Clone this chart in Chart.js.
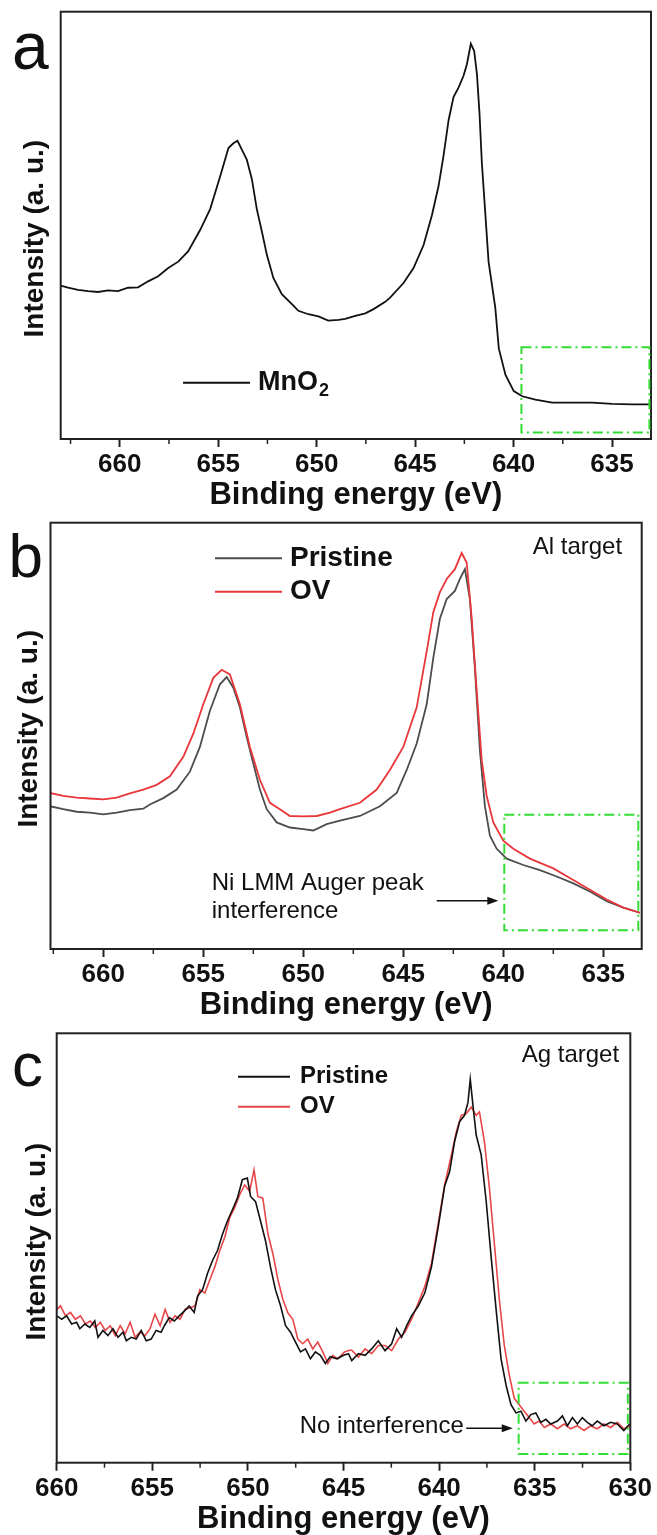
<!DOCTYPE html>
<html>
<head>
<meta charset="utf-8">
<script src="https://cdn.jsdelivr.net/npm/chart.js@4.4.0/dist/chart.umd.min.js"></script>
<style>
  html, body { margin: 0; padding: 0; background: #fff; }
  #wrap { position: relative; width: 657px; height: 1535px; }
  canvas { position: absolute; left: 0; }
</style>
</head>
<body>
<div id="wrap">
  <canvas id="chartA" width="657" height="512" style="top:0"></canvas>
  <canvas id="chartB" width="657" height="510" style="top:512px"></canvas>
  <canvas id="chartC" width="657" height="513" style="top:1022px"></canvas>
</div>
<script>
// ── Panel a: MnO2 (Al target) ────────────────────────────────
const aEnergy = [663.0, 662.63, 662.12, 661.61, 661.1, 660.6, 660.09, 659.58, 659.07, 658.56,
  658.05, 657.54, 657.03, 656.53, 655.92, 655.41, 654.9, 654.48, 654.23, 654.02,
  653.8, 653.55, 653.29, 653.04, 652.78, 652.53, 652.2, 651.77, 651.18, 650.93,
  650.42, 649.91, 649.41, 648.9, 648.55, 648.04, 647.53, 647.11, 646.52, 646.27,
  645.59, 645.08, 644.57, 644.15, 643.81, 643.56, 643.3, 643.05, 642.79, 642.54,
  642.37, 642.17, 642.0, 641.86, 641.73, 641.61, 641.44, 641.27, 640.93, 640.75,
  640.41, 639.99, 639.56, 638.89, 638.04, 637.02, 636.01, 634.99, 633.97, 632.99];
const aMnO2 = [35.9, 35.4, 34.9, 34.6, 34.4, 34.8, 34.6, 35.4, 35.5, 36.9,
  38.1, 40.0, 41.5, 43.9, 48.9, 53.8, 61.5, 68.1, 69.2, 69.8,
  67.7, 65.4, 60.8, 53.8, 48.5, 43.1, 37.7, 33.9, 31.2, 30.0,
  29.2, 28.7, 27.7, 27.9, 28.1, 28.8, 29.4, 30.4, 32.1, 33.1,
  36.5, 40.0, 45.4, 52.3, 59.2, 66.2, 74.6, 80.0, 82.3, 85.0,
  87.7, 92.5, 90.8, 85.4, 76.2, 64.6, 53.1, 41.5, 30.8, 21.2,
  15.0, 11.2, 10.0, 9.2, 8.5, 8.5, 8.5, 8.2, 8.1, 8.1];

// ── Panel b: Pristine vs OV (Al target) ──────────────────────
const bPristineEnergy = [662.67, 662.0, 661.33, 660.67, 660.0, 659.33, 658.67, 658.0, 657.67, 657.0,
  656.33, 655.67, 655.17, 654.67, 654.17, 653.83, 653.5, 653.17, 652.83, 652.5,
  652.17, 651.83, 651.33, 650.67, 650.0, 649.5, 648.83, 648.17, 647.17, 646.17,
  645.33, 644.83, 644.33, 643.83, 643.5, 643.17, 642.83, 642.42, 642.17, 641.92,
  641.67, 641.42, 641.17, 640.92, 640.67, 640.33, 639.83, 639.0, 638.17, 637.33,
  636.5, 635.67, 634.83, 634.0, 633.17];
const bPristine = [33.5, 32.8, 32.2, 32.0, 31.6, 32.0, 32.6, 32.9, 33.9, 35.4,
  37.4, 41.6, 47.4, 55.9, 62.1, 63.8, 61.3, 56.7, 49.7, 43.5,
  37.4, 32.8, 29.7, 28.5, 28.1, 27.8, 29.3, 30.1, 31.2, 33.5,
  36.6, 42.0, 48.2, 57.4, 68.3, 77.5, 82.1, 84.0, 86.8, 89.1,
  82.1, 65.9, 46.6, 33.5, 26.6, 23.5, 21.2, 19.7, 18.5, 17.0,
  15.4, 13.5, 11.2, 9.7, 8.5];
const bOvEnergy = [662.67, 662.0, 661.33, 660.67, 660.0, 659.33, 658.67, 658.0, 657.33, 656.67,
  656.0, 655.5, 655.0, 654.5, 654.08, 653.67, 653.17, 652.67, 652.17, 651.67,
  651.17, 650.67, 650.0, 649.33, 648.67, 648.17, 647.17, 646.33, 645.67, 645.0,
  644.33, 643.83, 643.5, 643.17, 642.83, 642.42, 642.08, 641.83, 641.58, 641.33,
  641.08, 640.83, 640.5, 640.0, 639.5, 638.67, 637.5, 636.5, 635.67, 634.83,
  634.0, 633.17];
const bOv = [36.6, 35.9, 35.5, 35.3, 35.1, 35.5, 36.5, 37.4, 38.5, 40.5,
  45.1, 50.5, 57.4, 63.6, 65.5, 64.4, 57.4, 47.4, 39.7, 34.3,
  32.8, 31.2, 31.1, 31.2, 32.0, 32.8, 34.3, 37.4, 42.0, 47.4,
  56.7, 69.8, 79.0, 83.7, 86.8, 89.1, 92.9, 90.6, 77.5, 60.6,
  44.3, 35.9, 29.7, 25.4, 23.5, 21.2, 18.9, 16.2, 13.9, 11.6,
  9.7, 8.5];

// ── Panel c: Pristine vs OV (Ag target) ──────────────────────
const cPristineEnergy = [659.98, 659.74, 659.48, 659.22, 658.96, 658.79, 658.53, 658.27, 658.01, 657.84,
  657.58, 657.32, 657.06, 656.79, 656.53, 656.36, 656.1, 655.84, 655.58, 655.32,
  655.06, 654.8, 654.54, 654.37, 654.11, 653.85, 653.59, 653.33, 653.07, 652.81,
  652.63, 652.37, 652.11, 651.85, 651.59, 651.33, 651.07, 650.81, 650.55, 650.29,
  650.03, 649.86, 649.6, 649.34, 649.08, 648.82, 648.56, 648.29, 648.03, 647.77,
  647.51, 647.25, 646.99, 646.73, 646.47, 646.21, 645.95, 645.69, 645.34, 645.0,
  644.74, 644.57, 644.22, 643.87, 643.53, 643.18, 642.83, 642.48, 642.22, 641.96,
  641.7, 641.44, 641.09, 640.75, 640.4, 640.05, 639.71, 639.45, 639.19, 638.93,
  638.67, 638.49, 638.37, 638.23, 638.06, 637.8, 637.54, 637.28, 637.02, 636.76,
  636.5, 636.24, 635.98, 635.72, 635.46, 635.2, 634.94, 634.68, 634.42, 634.16,
  633.81, 633.55, 633.29, 633.03, 632.77, 632.51, 632.25, 631.99, 631.73, 631.38,
  631.03, 630.68, 630.34, 630.03];
const cPristine = [34.2, 33.4, 34.2, 32.3, 32.7, 31.2, 32.3, 31.5, 33.0, 29.2,
  30.8, 29.6, 31.2, 29.2, 30.4, 28.4, 29.2, 28.8, 30.8, 28.4,
  28.8, 30.8, 30.4, 31.9, 33.8, 33.0, 34.2, 35.3, 36.5, 35.0,
  38.8, 40.3, 44.1, 47.1, 49.4, 53.2, 56.3, 58.9, 61.6, 65.9,
  66.3, 62.0, 60.8, 56.3, 51.7, 45.6, 40.3, 36.5, 31.9, 30.4,
  28.1, 25.8, 26.5, 24.2, 25.8, 25.0, 23.1, 24.7, 24.2, 25.0,
  25.4, 23.8, 25.4, 25.0, 26.5, 28.4, 26.1, 27.7, 31.2, 29.2,
  31.9, 34.2, 36.5, 39.5, 45.6, 54.8, 64.4, 67.8, 74.8, 79.4,
  80.9, 83.9, 89.3, 83.2, 76.3, 71.7, 61.0, 48.0, 35.7, 24.2,
  18.1, 13.5, 11.6, 12.0, 9.7, 11.2, 11.6, 9.4, 10.1, 9.0,
  9.7, 10.9, 8.6, 10.5, 9.0, 10.5, 9.4, 8.6, 9.7, 8.6,
  9.4, 9.0, 7.5, 9.0];
const cOvEnergy = [659.98, 659.8, 659.54, 659.28, 659.02, 658.76, 658.5, 658.24, 657.98, 657.72,
  657.46, 657.2, 656.94, 656.68, 656.42, 656.16, 655.9, 655.64, 655.38, 655.12,
  654.86, 654.59, 654.33, 654.07, 653.81, 653.55, 653.29, 653.03, 652.77, 652.51,
  652.25, 651.99, 651.73, 651.47, 651.21, 650.95, 650.69, 650.43, 650.17, 649.91,
  649.68, 649.48, 649.22, 648.95, 648.69, 648.43, 648.17, 647.91, 647.65, 647.39,
  647.13, 646.87, 646.61, 646.35, 646.08, 645.82, 645.56, 645.3, 644.95, 644.69,
  644.57, 644.22, 643.87, 643.53, 643.18, 642.83, 642.48, 642.13, 641.79, 641.44,
  641.09, 640.75, 640.4, 640.05, 639.71, 639.36, 639.1, 638.84, 638.58, 638.32,
  638.06, 637.89, 637.63, 637.37, 637.11, 636.85, 636.59, 636.33, 636.07, 635.81,
  635.55, 635.29, 635.03, 634.77, 634.5, 634.16, 633.81, 633.46, 633.12, 632.77,
  632.42, 632.08, 631.73, 631.38, 631.03, 630.68, 630.34, 630.03];
const cOv = [35.7, 36.5, 34.2, 35.0, 33.4, 34.2, 32.3, 33.0, 31.5, 32.7,
  30.8, 31.9, 29.6, 31.9, 30.0, 32.7, 29.2, 30.4, 29.6, 31.2,
  34.6, 31.9, 35.7, 32.7, 34.2, 33.4, 35.7, 36.1, 36.5, 40.3,
  39.5, 42.6, 45.6, 49.4, 52.5, 57.1, 59.4, 62.4, 64.7, 63.2,
  68.2, 62.0, 61.6, 53.2, 48.6, 42.6, 38.0, 34.9, 33.4, 28.8,
  27.7, 28.8, 26.5, 28.1, 25.8, 23.1, 25.0, 24.2, 25.8, 26.2,
  26.2, 24.6, 26.5, 25.4, 27.3, 27.3, 26.1, 28.8, 30.4, 33.4,
  37.2, 41.0, 46.4, 55.6, 64.7, 71.6, 77.0, 80.9, 81.3, 82.8,
  80.9, 81.7, 74.8, 64.0, 51.0, 38.0, 27.3, 20.4, 15.0, 13.5,
  12.0, 10.5, 9.0, 9.7, 8.2, 9.0, 7.9, 9.0, 7.9, 8.6,
  7.5, 8.6, 7.9, 9.0, 8.2, 9.4, 7.9, 8.6];

const FONT = '"Liberation Sans", Arial, sans-serif';
const INK = '#111';
const pts = (xs, ys) => xs.map((x, i) => ({ x, y: ys[i] }));
const isMajor = v => Math.abs(v % 5) < 1e-6;

// frame, minor ticks, legend, labels and the green dash-dot region
const decor = {
  id: 'decor',
  afterDraw(chart, args, o) {
    const { ctx, chartArea: a, scales: { x, y } } = chart;
    ctx.save();

    // plot frame
    ctx.strokeStyle = '#222';
    ctx.lineWidth = 2;
    ctx.strokeRect(a.left, a.top, a.right - a.left, a.bottom - a.top);

    // minor ticks (shorter than the major ones)
    ctx.lineWidth = 1.5;
    x.ticks.forEach(t => {
      if (isMajor(t.value)) return;
      const px = x.getPixelForValue(t.value);
      ctx.beginPath();
      ctx.moveTo(px, a.bottom);
      ctx.lineTo(px, a.bottom + 5);
      ctx.stroke();
    });

    // green dash-dot region
    const [e1, e2, i1, i2] = o.region;
    const rx1 = x.getPixelForValue(e1), rx2 = x.getPixelForValue(e2);
    const ry1 = y.getPixelForValue(i1), ry2 = y.getPixelForValue(i2);
    ctx.strokeStyle = '#33dd33';
    ctx.lineWidth = 2;
    ctx.setLineDash([10, 4, 2, 4]);
    ctx.strokeRect(rx1, ry1, rx2 - rx1, ry2 - ry1);
    ctx.setLineDash([]);

    // arrow
    if (o.arrow) {
      const [s, e, v] = o.arrow;
      const ax1 = x.getPixelForValue(s), ax2 = x.getPixelForValue(e), ay = y.getPixelForValue(v);
      ctx.strokeStyle = INK;
      ctx.fillStyle = INK;
      ctx.lineWidth = 1.5;
      ctx.beginPath();
      ctx.moveTo(ax1, ay);
      ctx.lineTo(ax2 - 8, ay);
      ctx.stroke();
      ctx.beginPath();
      ctx.moveTo(ax2, ay);
      ctx.lineTo(ax2 - 11, ay - 4);
      ctx.lineTo(ax2 - 11, ay + 4);
      ctx.closePath();
      ctx.fill();
    }

    // note text
    ctx.fillStyle = INK;
    ctx.textAlign = 'left';
    ctx.textBaseline = 'middle';
    ctx.font = `24px ${FONT}`;
    (o.notes || []).forEach(n => {
      ctx.fillText(n.text, x.getPixelForValue(n.e), y.getPixelForValue(n.v));
    });

    // target label, top right
    if (o.target) ctx.fillText(o.target.text, o.target.x, o.target.y);

    // legend
    const lg = o.legend;
    chart.data.datasets.slice().sort((p, q) => p.legendOrder - q.legendOrder).forEach((ds, i) => {
      const ly = lg.rows[i];
      ctx.strokeStyle = ds.borderColor;
      ctx.lineWidth = 2;
      ctx.beginPath();
      ctx.moveTo(lg.x1, ly);
      ctx.lineTo(lg.x2, ly);
      ctx.stroke();
      ctx.fillStyle = INK;
      ctx.font = `bold ${lg.size}px ${FONT}`;
      ctx.fillText(ds.label, lg.tx, ly);
      if (ds.sub) {
        const w = ctx.measureText(ds.label).width;
        ctx.font = `bold ${Math.round(lg.size * 0.68)}px ${FONT}`;
        ctx.fillText(ds.sub, lg.tx + w + 1, ly + lg.size * 0.3);
      }
    });

    // y title
    ctx.save();
    ctx.translate(o.yTitle.x, o.yTitle.y);
    ctx.rotate(-Math.PI / 2);
    ctx.textAlign = 'center';
    ctx.fillStyle = INK;
    ctx.font = `bold 28px ${FONT}`;
    ctx.fillText('Intensity (a. u.)', 0, 0);
    ctx.restore();

    // panel letter
    ctx.textBaseline = 'alphabetic';
    ctx.textAlign = 'left';
    ctx.fillStyle = INK;
    ctx.font = `${o.letter.size}px ${FONT}`;
    ctx.fillText(o.letter.text, o.letter.x, o.letter.y);

    ctx.restore();
  }
};

function makePanel(id, datasets, p) {
  return new Chart(document.getElementById(id), {
    type: 'line',
    data: { datasets },
    options: {
      responsive: false,
      animation: false,
      layout: { padding: p.padding },
      elements: { point: { radius: 0 }, line: { tension: 0 } },
      plugins: { legend: { display: false }, tooltip: { enabled: false }, decor: p.decor },
      scales: {
        x: {
          type: 'linear',
          reverse: true,
          min: p.xMin,
          max: p.xMax,
          border: { display: false },
          grid: {
            drawOnChartArea: false,
            tickLength: 8,
            tickWidth: 2,
            tickColor: c => (c.tick && isMajor(c.tick.value) ? '#222' : 'rgba(0,0,0,0)')
          },
          ticks: {
            stepSize: 2.5,
            maxTicksLimit: 20,
            includeBounds: false,
            autoSkip: false,
            maxRotation: 0,
            padding: 5,
            color: INK,
            font: { family: FONT, size: 26, weight: 'bold', lineHeight: 1.0 },
            callback: v => (isMajor(v) ? String(Math.round(v)) : '')
          },
          title: {
            display: true,
            text: 'Binding energy (eV)',
            color: INK,
            padding: 0,
            font: { family: FONT, size: 31, weight: 'bold', lineHeight: 0.8 }
          }
        },
        y: { display: false, min: 0, max: 100 }
      }
    },
    plugins: [decor]
  });
}

makePanel('chartA', [
  { label: 'MnO', sub: '2', legendOrder: 0, data: pts(aEnergy, aMnO2), borderColor: '#111', borderWidth: 1.8 }
], {
  xMin: 633.02, xMax: 663.0,
  padding: { left: 60.7, right: 6, top: 11.7, bottom: 4.2 },
  decor: {
    region: [639.6, 633.1, 21.5, 1.5],
    legend: { x1: 183, x2: 250, tx: 258, size: 27, rows: [382.7] },
    yTitle: { x: 35.5, y: 238.7 },
    letter: { text: 'a', x: 12, y: 69, size: 66 }
  }
});

makePanel('chartB', [
  { label: 'OV', legendOrder: 1, data: pts(bOvEnergy, bOv), borderColor: '#e8363b', borderWidth: 1.8 },
  { label: 'Pristine', legendOrder: 0, data: pts(bPristineEnergy, bPristine), borderColor: '#4d4d4d', borderWidth: 1.8 }
], {
  xMin: 633.08, xMax: 662.64,
  padding: { left: 50.5, right: 15.3, top: 10.7, bottom: 4.2 },
  decor: {
    region: [639.95, 633.25, 31.5, 4.4],
    arrow: [643.33, 640.25, 11.3],
    notes: [{ text: 'Ni LMM Auger peak', e: 654.58, v: 15.4 }, { text: 'interference', e: 654.58, v: 8.9 }],
    target: { text: 'Al target', x: 532.7, y: 35.3 },
    legend: { x1: 215, x2: 282, tx: 290, size: 28, rows: [46.3, 79.7] },
    yTitle: { x: 29, y: 216.8 },
    letter: { text: 'b', x: 8.5, y: 65.3, size: 62 }
  }
});

makePanel('chartC', [
  { label: 'Pristine', legendOrder: 0, data: pts(cPristineEnergy, cPristine), borderColor: '#111', borderWidth: 1.6 },
  { label: 'OV', legendOrder: 1, data: pts(cOvEnergy, cOv), borderColor: '#e8474a', borderWidth: 1.6 }
], {
  xMin: 630, xMax: 660,
  padding: { left: 56.7, right: 23.7, top: 11.3, bottom: 3.5 },
  decor: {
    region: [635.84, 630.13, 18.6, 2.0],
    arrow: [638.58, 636.15, 8.0],
    notes: [{ text: 'No interference', e: 647.29, v: 8.5 }],
    target: { text: 'Ag target', x: 521.7, y: 33 },
    legend: { x1: 238, x2: 290, tx: 300, size: 24, rows: [54.7, 84.7] },
    yTitle: { x: 37.5, y: 219.7 },
    letter: { text: 'c', x: 12, y: 63.7, size: 62 }
  }
});
</script>
</body>
</html>
